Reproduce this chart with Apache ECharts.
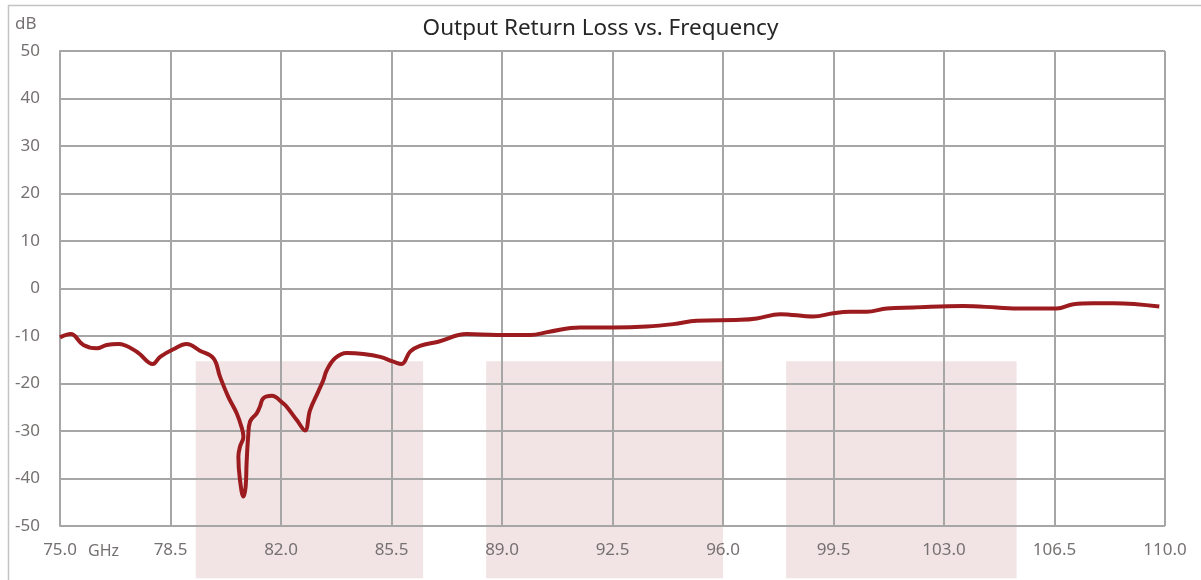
<!DOCTYPE html>
<html>
<head>
<meta charset="utf-8">
<script src="https://cdn.jsdelivr.net/npm/echarts@6/dist/echarts.min.js"></script>
<style>
  html, body { margin: 0; padding: 0; background: #fff; }
  #main { width: 1201px; height: 580px; }
</style>
</head>
<body>
<div id="main"></div>
<script>
// frequency (GHz) and return loss (dB)
var freq = [75.00, 75.34, 75.74, 76.16, 76.48, 76.85, 77.43, 77.94, 78.17, 78.59,
  79.01, 79.43, 79.86, 80.07, 80.33, 80.60, 80.76, 80.81, 80.70, 80.65,
  80.70, 80.81, 80.88, 80.91, 80.96, 81.02, 81.23, 81.33, 81.44, 81.71,
  82.07, 82.18, 82.50, 82.76, 82.92, 83.18, 83.34, 83.45, 83.71, 84.08,
  84.61, 85.14, 85.56, 85.82, 86.09, 86.40, 86.98, 87.88, 88.83, 89.89,
  90.50, 91.47, 92.53, 93.58, 94.43, 95.17, 96.54, 97.07, 97.81, 98.86,
  99.49, 100.02, 100.55, 101.19, 102.03, 103.61, 104.67, 105.20, 106.57, 107.10,
  107.73, 108.37, 109.82];
var returnLoss = [-10.3, -9.6, -11.9, -12.6, -11.9, -11.7, -13.3, -15.9, -14.4, -12.8,
  -11.7, -13.1, -14.7, -18.6, -22.8, -26.3, -29.4, -31.2, -33.3, -35.4,
  -40.3, -43.8, -41.7, -36.8, -31.2, -28.0, -26.3, -24.9, -23.1, -22.6,
  -24.2, -24.9, -27.7, -29.9, -25.6, -21.7, -19.3, -17.2, -14.7, -13.6,
  -13.8, -14.4, -15.4, -15.9, -13.3, -12.1, -11.2, -9.6, -9.8, -9.8,
  -9.1, -8.2, -8.2, -8.0, -7.5, -6.8, -6.6, -6.3, -5.4, -5.9,
  -5.2, -4.9, -4.9, -4.2, -4.0, -3.7, -4.0, -4.2, -4.2, -3.3,
  -3.1, -3.1, -3.8];

// shaded bands (GHz from/to, dB top/bottom)
var bandFrom = [79.3, 88.5, 98.0];
var bandTo = [86.5, 96.0, 105.3];
var bandTop = -15.3;
var bandBottom = -61;

var curve = freq.map(function (f, i) { return [f, returnLoss[i]]; });
var bands = bandFrom.map(function (f, i) { return [f, bandTo[i], bandTop, bandBottom]; });

var gridColor = '#a6a6a6';
var labelColor = '#767171';
var font = 'Noto Sans';

var myChart = echarts.init(document.getElementById('main'));
myChart.setOption({
  animation: false,
  backgroundColor: '#fff',
  title: {
    text: 'Output Return Loss vs. Frequency',
    left: 'center',
    top: 12,
    textStyle: { fontFamily: font, fontSize: 22.5, fontWeight: 'normal', color: '#262626' }
  },
  graphic: [
    { type: 'rect', left: 6, top: 3, shape: { width: 1197, height: 576 },
      style: { fill: 'none', stroke: '#c4c4c4', lineWidth: 1.5 }, silent: true },
    { type: 'text', left: 15, top: 16, style: { text: 'dB', fill: labelColor, font: '17px "Noto Sans"' } },
    { type: 'text', left: 88, top: 543, style: { text: 'GHz', fill: labelColor, font: '16px "Noto Sans"' } }
  ],
  grid: { left: 60, right: 36, top: 51, bottom: 54, containLabel: false },
  xAxis: {
    type: 'value', min: 75, max: 110, interval: 3.5,
    axisLine: { show: true, lineStyle: { color: gridColor, width: 2 } },
    axisTick: { show: false },
    axisLabel: {
      margin: 16, color: labelColor, fontFamily: font, fontSize: 17,
      formatter: function (v) { return v.toFixed(1); }
    },
    splitLine: { show: true, lineStyle: { color: gridColor, width: 2 } }
  },
  yAxis: {
    type: 'value', min: -50, max: 50, interval: 10,
    axisLine: { show: true, lineStyle: { color: gridColor, width: 2 } },
    axisTick: { show: false },
    axisLabel: { margin: 20, color: labelColor, fontFamily: font, fontSize: 17 },
    splitLine: { show: true, lineStyle: { color: gridColor, width: 2 } }
  },
  series: [
    {
      type: 'custom',
      z: -1,
      clip: false,
      silent: true,
      data: bands,
      renderItem: function (params, api) {
        var p0 = api.coord([api.value(0), api.value(2)]);
        var p1 = api.coord([api.value(1), api.value(3)]);
        return {
          type: 'rect',
          shape: { x: p0[0], y: p0[1], width: p1[0] - p0[0], height: p1[1] - p0[1] },
          style: { fill: '#f2e4e5' }
        };
      }
    },
    {
      type: 'line',
      data: curve,
      smooth: 0.4,
      showSymbol: false,
      lineStyle: { color: '#9b1b1e', width: 4 }
    }
  ]
});
</script>
</body>
</html>
